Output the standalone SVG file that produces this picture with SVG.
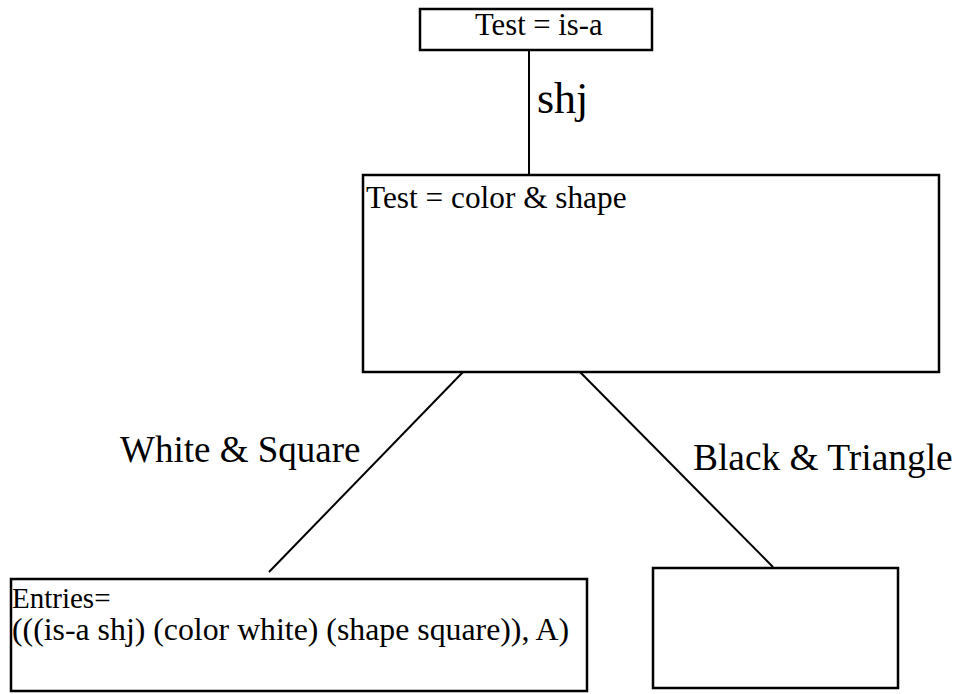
<svg xmlns="http://www.w3.org/2000/svg" width="958" height="694" viewBox="0 0 958 694" font-family="'Liberation Serif', 'DejaVu Serif', serif">
  <style>
    .box { fill: #ffffff; stroke: #000000; stroke-width: 2.5; }
    .edge { stroke: #000000; stroke-width: 2; fill: none; }
    .lbl { font-family: 'Liberation Serif', 'DejaVu Serif', serif; fill: #000000; }
  </style>
  <rect x="0" y="0" width="958" height="694" fill="#ffffff"/>

  <!-- tree edges -->
  <g id="connectors">
    <line class="edge" x1="529" y1="50" x2="529" y2="175"/>
    <line class="edge" x1="463" y1="372" x2="269" y2="572"/>
    <line class="edge" x1="580" y1="372" x2="773" y2="567"/>
    <text class="lbl" x="537" y="113" font-size="44">shj</text>
    <text class="lbl" x="120" y="462" font-size="37">White &amp; Square</text>
    <text class="lbl" x="693" y="470" font-size="37.4">Black &amp; Triangle</text>
  </g>

  <g id="node-root">
    <rect class="box" x="420" y="9" width="232" height="41"/>
    <text class="lbl" x="475" y="35" font-size="30.7">Test = is-a</text>
  </g>

  <g id="node-test">
    <rect class="box" x="363" y="175" width="576" height="197"/>
    <text class="lbl" x="366" y="208" font-size="31.3">Test = color &amp; shape</text>
  </g>

  <g id="node-leaf-white">
    <rect class="box" x="11" y="579" width="576" height="112"/>
    <text class="lbl" x="12" y="608" font-size="29">Entries=</text>
    <text class="lbl" x="12" y="640" font-size="31.8">(((is-a shj) (color white) (shape square)), A)</text>
  </g>

  <g id="node-leaf-black">
    <rect class="box" x="653" y="568" width="245" height="120"/>
  </g>
</svg>
